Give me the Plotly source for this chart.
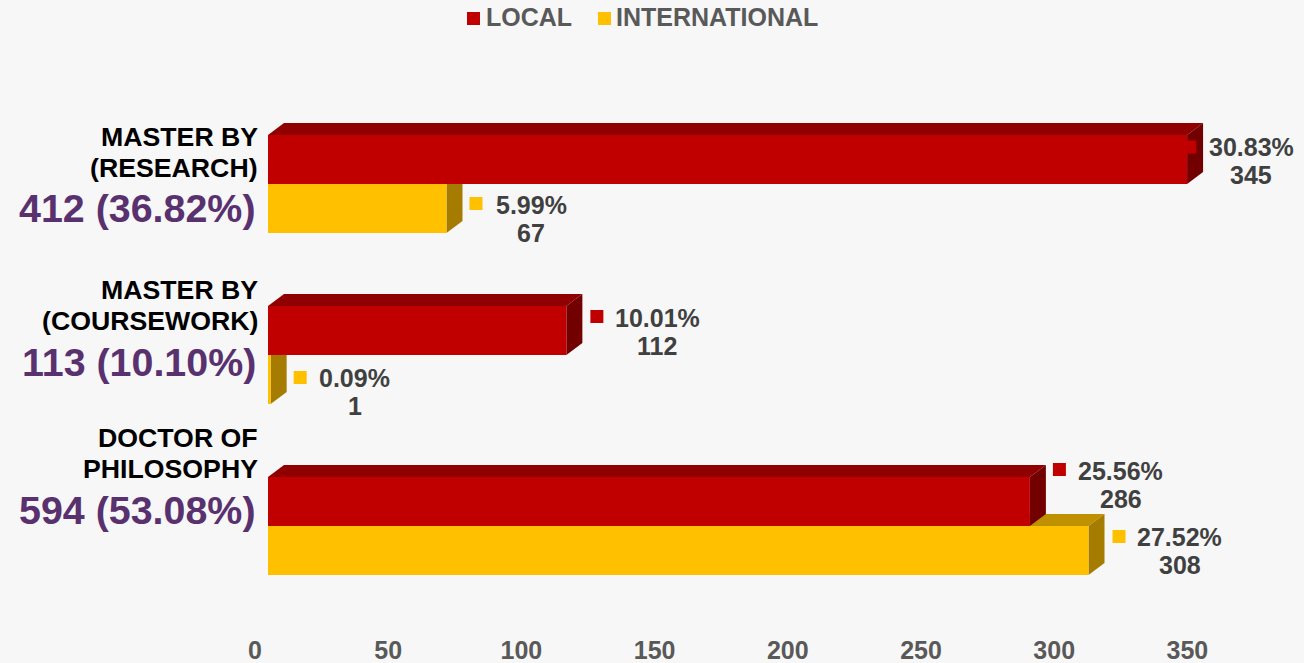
import plotly.graph_objects as go

W, H = 1304, 663
FONT = "Liberation Sans, Arial, sans-serif"

# ---- data ----
positions = [0, 1, 2]
category_line1 = ["MASTER BY", "MASTER BY", "DOCTOR OF"]
category_line2 = ["(RESEARCH)", "(COURSEWORK)", "PHILOSOPHY"]
category_totals = ["412 (36.82%)", "113 (10.10%)", "594 (53.08%)"]
local_values = [345, 112, 286]
international_values = [67, 1, 308]
local_pct = ["30.83%", "10.01%", "25.56%"]
international_pct = ["5.99%", "0.09%", "27.52%"]
tick_values = [0, 50, 100, 150, 200, 250, 300, 350]

# ---- geometry / style (pixels of the 1304x663 page) ----
PX_PER_UNIT = 2.664
PX_PER_CAT = 171
X0_PX, AXIS_PX, TICK_SHIFT = 268, 633, 13
CAT0_PX = 184
BAR_PX = 49
DEPTH_X = 16 / PX_PER_UNIT
DEPTH_Y = 12 / PX_PER_CAT
BAR_H = BAR_PX / PX_PER_CAT
X_RANGE = [0, (W - X0_PX) / PX_PER_UNIT]
Y_RANGE = [(AXIS_PX - CAT0_PX) / PX_PER_CAT, -CAT0_PX / PX_PER_CAT]

RED, RED_TOP, RED_SIDE = "#C00000", "#900000", "#730000"
YEL, YEL_TOP, YEL_SIDE = "#FFC000", "#BF9000", "#A67C00"
LABEL, TICK, PURPLE, BG = "#404040", "#595959", "#59316F", "#F7F7F7"

# per-label offsets: x from bar end, y (pct line, count line, marker) from category centre
local_style = [dict(cx=64, mx=-4, y=(37, 9, 37)),
               dict(cx=91, mx=24, y=(37, 9, 38.5)),
               dict(cx=91, mx=23, y=(55, 27, 56.5))]
intl_style = [dict(cx=85, mx=23, y=(-21, -49, -19.5)),
              dict(cx=84, mx=23, y=(-23, -51, -22.5)),
              dict(cx=91, mx=24, y=(-11, -39, -10.5))]
cat_label_px = [(137, 168, 208), (290, 321, 362), (438, 469, 510)]


def faces(value, top, bottom, top_col, side_col):
    top_path = (f"M0,{top} L{DEPTH_X},{top - DEPTH_Y} L{value + DEPTH_X},{top - DEPTH_Y} "
                f"L{value},{top} Z")
    side_path = (f"M{value},{top} L{value + DEPTH_X},{top - DEPTH_Y} "
                 f"L{value + DEPTH_X},{bottom - DEPTH_Y} L{value},{bottom} Z")
    return [dict(type="path", path=p, xref="x", yref="y", fillcolor=c, line_width=0, layer="below")
            for p, c in ((top_path, top_col), (side_path, side_col))]


fig = go.Figure()
fig.add_bar(name="LOCAL", y=positions, x=local_values, orientation="h",
            marker=dict(color=RED, line_width=0), showlegend=False)
fig.add_bar(name="INTERNATIONAL", y=positions, x=international_values, orientation="h",
            marker=dict(color=YEL, line_width=0), showlegend=False)
# carries the tick axis, which the original draws offset from the bars
fig.add_scatter(x=tick_values, y=[positions[0]] * len(tick_values), xaxis="x2", yaxis="y",
                mode="markers", marker_opacity=0, showlegend=False, hoverinfo="skip")

shapes, annotations = [], []
for c, v in zip(positions, international_values):
    shapes += faces(v, c, c + BAR_H, YEL_TOP, YEL_SIDE)
for c, v in zip(positions, local_values):
    shapes += faces(v, c - BAR_H, c, RED_TOP, RED_SIDE)


def add_label(c, value, pct, st, col):
    for text, dy in ((pct, st["y"][0]), (str(value), st["y"][1])):
        annotations.append(dict(x=value, y=c, xref="x", yref="y", text=f"<b>{text}</b>",
                                xshift=st["cx"], yshift=dy, showarrow=False,
                                xanchor="center", yanchor="middle",
                                font=dict(family=FONT, size=25, color=LABEL)))
    shapes.append(dict(type="rect", xref="x", yref="y", xsizemode="pixel", ysizemode="pixel",
                       xanchor=value, yanchor=c, x0=st["mx"], x1=st["mx"] + 13,
                       y0=st["y"][2] - 6.5, y1=st["y"][2] + 6.5,
                       fillcolor=col, line_width=0, layer="above"))


for c, v, p, st in zip(positions, local_values, local_pct, local_style):
    add_label(c, v, p, st, RED)
for c, v, p, st in zip(positions, international_values, international_pct, intl_style):
    add_label(c, v, p, st, YEL)


def paper_text(text, px, py, size, color, anchor):
    annotations.append(dict(x=px / W, y=1 - py / H, xref="paper", yref="paper",
                            text=f"<b>{text}</b>", showarrow=False, xanchor=anchor,
                            yanchor="middle", font=dict(family=FONT, size=size, color=color)))


for a, b, t, ys in zip(category_line1, category_line2, category_totals, cat_label_px):
    paper_text(a, 260, ys[0], 26.7, "#000000", "right")
    paper_text(b, 260, ys[1], 26.7, "#000000", "right")
    paper_text(t, 258, ys[2], 39.4, PURPLE, "right")

# legend
for name, mx, tx, col in ((fig.data[0].name, 467, 484, RED), (fig.data[1].name, 598, 614, YEL)):
    shapes.append(dict(type="rect", xref="paper", yref="paper", x0=mx / W, x1=(mx + 13) / W,
                       y0=1 - 25 / H, y1=1 - 12 / H, fillcolor=col, line_width=0))
    paper_text(name, tx, 17, 25, TICK, "left")

fig.update_layout(
    margin=dict(l=0, r=0, t=0, b=0, pad=0),
    paper_bgcolor=BG, plot_bgcolor="rgba(0,0,0,0)",
    barmode="group", bargap=1 - 2 * BAR_H, bargroupgap=0,
    shapes=shapes, annotations=annotations,
    xaxis=dict(domain=[X0_PX / W, 1], range=X_RANGE, visible=False, anchor="y", automargin=False),
    xaxis2=dict(domain=[(X0_PX - TICK_SHIFT) / W, (W - TICK_SHIFT) / W], range=X_RANGE,
                anchor="y", tickvals=tick_values, showgrid=False, zeroline=False,
                showline=False, ticks="", ticklabelstandoff=0, automargin=False,
                tickfont=dict(family=FONT, size=25, color=TICK, weight="bold")),
    yaxis=dict(domain=[(H - AXIS_PX) / H, 1], range=Y_RANGE, visible=False, automargin=False),
)

fig.write_html(
    "out.html",
    config=dict(displayModeBar=False),
    post_script=("document.documentElement.style.height='100%';"
                 "document.body.style.height='100%';"
                 "document.body.style.margin='0';"
                 "document.body.style.background='" + BG + "';"
                 "Plotly.Plots.resize(document.getElementById('{plot_id}'));"),
)
